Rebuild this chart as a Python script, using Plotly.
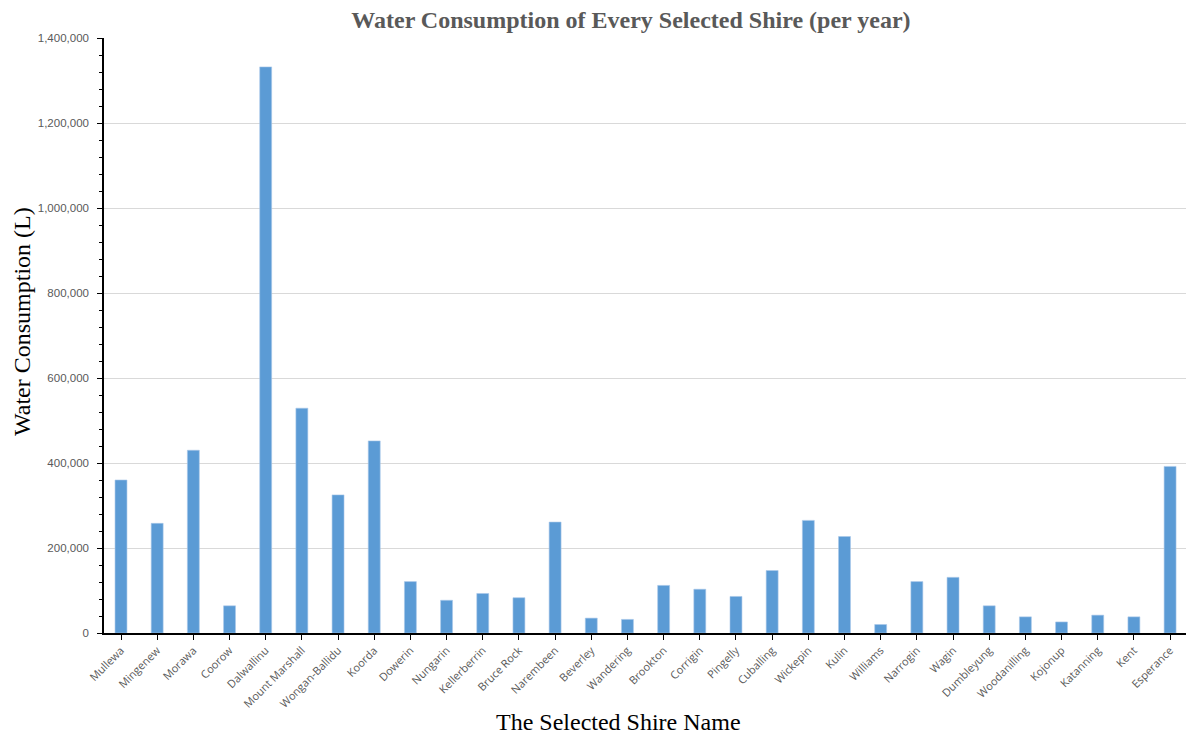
import plotly.graph_objects as go

shires = [
    "Mullewa", "Mingenew", "Morawa", "Coorow", "Dalwallinu", "Mount Marshall",
    "Wongan-Ballidu", "Koorda", "Dowerin", "Nungarin", "Kellerberrin", "Bruce Rock",
    "Narembeen", "Beverley", "Wandering", "Brookton", "Corrigin", "Pingelly",
    "Cuballing", "Wickepin", "Kulin", "Williams", "Narrogin", "Wagin",
    "Dumbleyung", "Woodanilling", "Kojonup", "Katanning", "Kent", "Esperance",
]
consumption = [
    360000, 258000, 430000, 64000, 1332000, 529000,
    325000, 452000, 121000, 77000, 93000, 83000,
    261000, 35000, 32000, 112000, 103000, 86000,
    147000, 265000, 227000, 20000, 121000, 131000,
    64000, 38000, 26000, 42000, 38000, 392000,
]
y_ticks = [0, 200000, 400000, 600000, 800000, 1000000, 1200000, 1400000]

fig = go.Figure(
    go.Bar(
        x=shires,
        y=consumption,
        marker=dict(color="#5b9bd5", line=dict(color="#a9c8ea", width=0.6)),
        width=0.33,
    )
)

serif = "Liberation Serif"

fig.update_layout(
    width=1186,
    height=738,
    margin=dict(l=104, r=0, t=38, b=105),
    paper_bgcolor="white",
    plot_bgcolor="white",
    showlegend=False,
    title=dict(
        text="<b>Water Consumption of Every Selected Shire (per year)</b>",
        x=0.532,
        xanchor="center",
        y=0.974,
        yanchor="middle",
        font=dict(family=serif, size=24, color="#595959"),
    ),
    annotations=[
        dict(
            text="The Selected Shire Name",
            xref="paper", yref="paper",
            x=(618 - 104) / 1082, y=-(722 - 633) / 595,
            xanchor="center", yanchor="middle",
            showarrow=False,
            font=dict(family=serif, size=24, color="#000000"),
        ),
        dict(
            text="Water Consumption (L)",
            xref="paper", yref="paper",
            x=-(104 - 22) / 1082, y=(633 - 322) / 595,
            xanchor="center", yanchor="middle",
            textangle=-90,
            showarrow=False,
            font=dict(family=serif, size=24, color="#000000"),
        ),
    ],
)

fig.update_xaxes(
    range=[-0.47, 29.44],
    tickangle=-45,
    tickfont=dict(family="Open Sans", size=11, color="#595959"),
    showline=True,
    linecolor="#000000",
    linewidth=1.5,
    ticks="outside",
    ticklen=5,
    tickcolor="#000000",
    showgrid=False,
)

fig.update_yaxes(
    range=[0, 1400000],
    tickvals=y_ticks,
    ticktext=[f"{v:,}" for v in y_ticks],
    tickfont=dict(family="Liberation Sans", size=11.5, color="#595959"),
    ticklabelstandoff=6,
    showline=True,
    linecolor="#000000",
    linewidth=1.5,
    ticks="outside",
    ticklen=5,
    tickcolor="#000000",
    showgrid=True,
    gridcolor="#d9d9d9",
    gridwidth=1,
    zeroline=False,
    minor=dict(dtick=40000, ticks="outside", ticklen=3, tickcolor="#000000", showgrid=False),
)

fig.write_html("out.html")
